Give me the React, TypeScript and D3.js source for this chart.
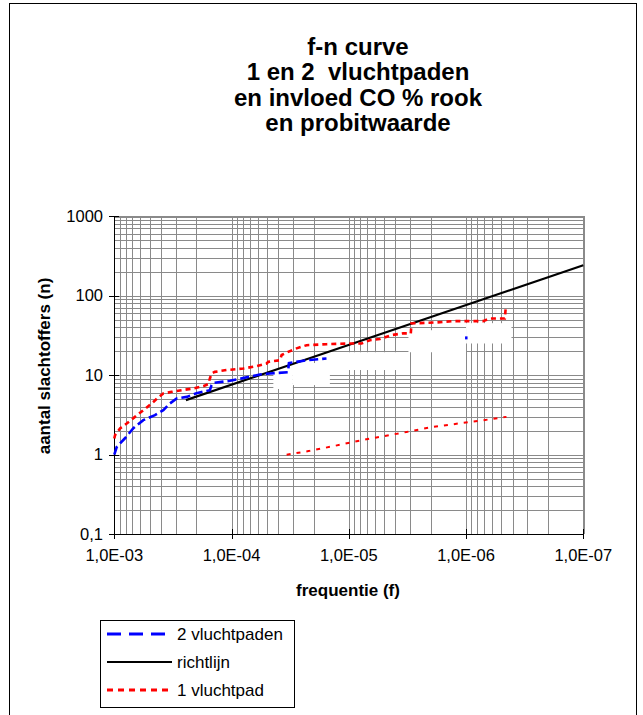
import { line, scaleLog } from "d3";

// f-n curve data: [frequentie, aantal slachtoffers]
const tweeVluchtpaden: [number, number][] = [
  [1e-3, 1.0], [9.54e-4, 1.25], [8.11e-4, 1.61], [6.88e-4, 2.15], [5.66e-4, 2.72],
  [4.5e-4, 3.14], [3.82e-4, 3.63], [3.35e-4, 4.41], [2.94e-4, 5.09], [2.41e-4, 5.33],
  [1.99e-4, 5.94], [1.53e-4, 6.48], [1.48e-4, 7.48], [1.43e-4, 8.0], [1.03e-4, 8.5],
  [8.0e-5, 9.17], [5.73e-5, 10.2], [4.71e-5, 10.5], [3.3e-5, 10.9], [3.24e-5, 14.2],
  [2.29e-5, 15.4], [1.55e-5, 16.2],
];
const tweeVluchtpadenLos: [number, number][] = [[1.0e-6, 29.4]];

const richtlijn: [number, number][] = [[2.45e-4, 4.85], [1e-7, 240]];

const eenVluchtpad: [number, number][] = [
  [1e-3, 1.6], [9.86e-4, 1.76], [8.94e-4, 2.14], [7.84e-4, 2.47], [6.67e-4, 2.99],
  [5.66e-4, 3.63], [4.8e-4, 4.41], [4.22e-4, 5.24], [3.82e-4, 5.88], [3.24e-4, 6.17],
  [2.66e-4, 6.48], [2.12e-4, 6.8], [1.74e-4, 7.27], [1.58e-4, 7.71], [1.53e-4, 9.08],
  [1.48e-4, 10.5], [1.39e-4, 11.0], [1.1e-4, 11.6], [7.94e-5, 12.1], [6.11e-5, 13.0],
  [5.02e-5, 14.0], [4.86e-5, 14.7], [3.87e-5, 15.4], [3.74e-5, 17.9], [3.29e-5, 19.6],
  [2.79e-5, 21.7], [2.29e-5, 23.8], [1.55e-5, 24.5], [9.79e-6, 25.0], [7.78e-6, 25.0],
  [6.61e-6, 27.5], [5.43e-6, 28.4], [4.32e-6, 31.9], [3.44e-6, 33.5], [2.96e-6, 33.5],
  [2.92e-6, 44.7], [1.78e-6, 46.0], [1.29e-6, 47.8], [7.15e-7, 47.8], [6.27e-7, 51.6],
  [4.67e-7, 51.6], [4.58e-7, 72.3],
];
const eenVluchtpadLaag: [number, number][] = [
  [3.39e-5, 1.0], [2.15e-5, 1.12], [1.36e-5, 1.28], [9.18e-6, 1.45], [5.8e-6, 1.65],
  [3.22e-6, 1.93], [1.91e-6, 2.24], [1.06e-6, 2.51], [7.15e-7, 2.71], [4.52e-7, 2.99],
];

// blank patches in the plot area: [f from, f to, n low, n high]
const witteVlakken: [number, number, number, number][] = [
  [4.4e-5, 3.0e-5, 6.7, 12.1],
  [3.0e-5, 1.45e-5, 7.5, 14.2],
  [1.45e-5, 3.1e-6, 11.6, 19.4],
  [3.1e-6, 1.0e-6, 19.4, 36.7],
  [1.0e-6, 4.1e-7, 25, 45],
];

const xTickValues = [1e-3, 1e-4, 1e-5, 1e-6, 1e-7];
const xTickLabels = ["1,0E-03", "1,0E-04", "1,0E-05", "1,0E-06", "1,0E-07"];
const yTickValues = [1000, 100, 10, 1, 0.1];
const yTickLabels = ["1000", "100", "10", "1", "0,1"];

const titleLines = ["f-n curve", "1 en 2  vluchtpaden", "en invloed CO % rook", "en probitwaarde"];

const legendItems = [
  { label: "2 vluchtpaden", color: "#0000ff", dash: "14,8", width: 3 },
  { label: "richtlijn", color: "#000", dash: "", width: 2 },
  { label: "1 vluchtpad", color: "#ff0000", dash: "6,5", width: 3 },
];

const W = 643;
const H = 715;
const left = 114.3;
const right = 583.3;
const top = 216;
const bottom = 534.3;
const font = "Arial, 'Liberation Sans', sans-serif";

export default function App() {
  const x = scaleLog().domain([1e-3, 1e-7]).range([left, right]);
  const y = scaleLog().domain([0.1, 1000]).range([bottom, top]);
  const path = line<[number, number]>((d) => x(d[0]), (d) => y(d[1]));
  const px = (v: number) => Math.round(v) + 0.5;

  return (
    <div style={{ position: "absolute", left: 0, top: 0 }}>
      <svg width={W} height={H} style={{ display: "block", fontFamily: font }}>
        <rect x={0} y={0} width={W} height={H} fill="#fff" />
        <rect x={9.5} y={3.5} width={627} height={730} fill="none" stroke="#000" />

        {titleLines.map((t, i) => (
          <text
            key={t}
            x={358}
            y={55 + i * 25.3}
            textAnchor="middle"
            fontSize={24}
            fontWeight="bold"
            style={{ whiteSpace: "pre" }}
          >
            {t}
          </text>
        ))}

        {/* grid */}
        <g stroke="#8a8a8a" strokeWidth={1} shapeRendering="crispEdges">
          {x.ticks().map((v, i) => (
            <line key={"gx" + i} x1={px(x(v))} x2={px(x(v))} y1={top} y2={bottom} />
          ))}
          {y.ticks().map((v, i) => (
            <line key={"gy" + i} x1={left} x2={right} y1={px(y(v))} y2={px(y(v))} />
          ))}
          <line x1={left} x2={px(right)} y1={px(top)} y2={px(top)} strokeWidth={2} />
          <line x1={px(right)} x2={px(right)} y1={top} y2={bottom} strokeWidth={2} />
        </g>

        {witteVlakken.map(([f0, f1, n0, n1], i) => (
          <rect key={"w" + i} x={x(f0)} y={y(n1)} width={x(f1) - x(f0)} height={y(n0) - y(n1)} fill="#fff" />
        ))}

        {/* axes */}
        <g stroke="#000" strokeWidth={1.5} shapeRendering="crispEdges">
          <line x1={px(left)} x2={px(left)} y1={top} y2={bottom + 1} />
          <line x1={left} x2={right + 1} y1={px(bottom)} y2={px(bottom)} />
          {xTickValues.map((v) => (
            <line key={"tx" + v} x1={px(x(v))} x2={px(x(v))} y1={bottom - 5} y2={bottom + 5} />
          ))}
          {yTickValues.map((v) => (
            <line key={"ty" + v} x1={left - 5} x2={left + 5} y1={px(y(v))} y2={px(y(v))} />
          ))}
        </g>

        {xTickValues.map((v, i) => (
          <text key={"lx" + i} x={x(v)} y={561} textAnchor="middle" fontSize={16.5}>
            {xTickLabels[i]}
          </text>
        ))}
        {yTickValues.map((v, i) => (
          <text key={"ly" + i} x={103} y={y(v) + 5.5} textAnchor="end" fontSize={16.5}>
            {yTickLabels[i]}
          </text>
        ))}

        <text x={348} y={596} textAnchor="middle" fontSize={17} fontWeight="bold">
          frequentie (f)
        </text>
        <text
          transform={`translate(50,366) rotate(-90)`}
          textAnchor="middle"
          fontSize={17}
          fontWeight="bold"
        >
          aantal slachtoffers (n)
        </text>

        {/* series */}
        <path d={path(richtlijn) ?? ""} fill="none" stroke="#000" strokeWidth={2.2} />
        <path d={path(tweeVluchtpaden) ?? ""} fill="none" stroke="#0000ff" strokeWidth={2.6} strokeDasharray="9,4" />
        {tweeVluchtpadenLos.map(([f, n], i) => (
          <rect key={"b" + i} x={x(f) - 1} y={y(n) - 1.5} width={2.5} height={3} fill="#0000ff" />
        ))}
        <path d={path(eenVluchtpad) ?? ""} fill="none" stroke="#ff0000" strokeWidth={2.6} strokeDasharray="5,4" />
        <path d={path(eenVluchtpadLaag) ?? ""} fill="none" stroke="#ff0000" strokeWidth={2} strokeDasharray="4,6" />

        {/* legend */}
        <rect x={100.5} y={620.5} width={194} height={87} fill="#fff" stroke="#000" />
        {legendItems.map((d, i) => (
          <g key={d.label} transform={`translate(0,${634 + i * 28})`}>
            <line x1={107} x2={172} y1={0} y2={0} stroke={d.color} strokeWidth={d.width} strokeDasharray={d.dash} />
            <text x={177} y={6} fontSize={17}>
              {d.label}
            </text>
          </g>
        ))}
      </svg>
    </div>
  );
}
